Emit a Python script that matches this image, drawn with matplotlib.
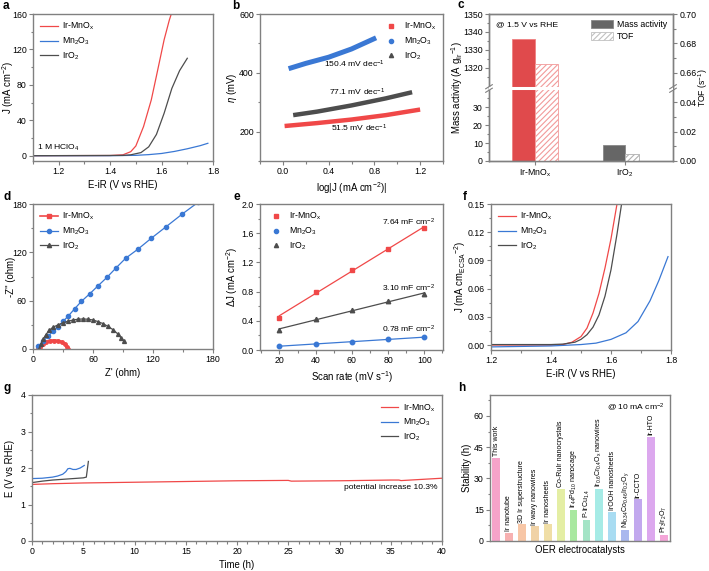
import numpy as np
import matplotlib
matplotlib.use('Agg')
import matplotlib.pyplot as plt
from matplotlib.lines import Line2D
from matplotlib.patches import Patch
from matplotlib.ticker import FixedLocator, MultipleLocator, FuncFormatter

plt.rcParams['font.family'] = ['Liberation Sans', 'DejaVu Sans']
plt.rcParams['mathtext.fontset'] = 'custom'
plt.rcParams['mathtext.rm'] = 'Liberation Sans'
plt.rcParams['mathtext.it'] = 'Liberation Sans:italic'
plt.rcParams['mathtext.default'] = 'regular'
plt.rcParams['hatch.linewidth'] = 0.8

RED = '#f04848'
BLUE = '#3a78d4'
GRAY = '#4d4d4d'
NAMES = ['Ir-MnO$_x$', 'Mn$_2$O$_3$', 'IrO$_2$']

# ---- a: LSV
a_ir_v = [1.10, 1.40, 1.45, 1.48, 1.50, 1.53, 1.56, 1.58, 1.61, 1.63, 1.64]
a_ir_j = [0, 0.2, 1.0, 4.5, 11, 33, 63, 90, 131, 153, 162]
a_mn_v = [1.10, 1.40, 1.50, 1.55, 1.60, 1.65, 1.70, 1.75, 1.78]
a_mn_j = [0, 0, 0.4, 1.2, 2.5, 4.8, 7.8, 11.3, 14]
a_iro_v = [1.10, 1.45, 1.48, 1.52, 1.55, 1.58, 1.61, 1.64, 1.67, 1.70]
a_iro_j = [0, 0.3, 1.0, 3.5, 10, 24, 48, 76, 96, 110]

# ---- b: Tafel
b_ir_x = [0.015, 0.3, 0.6, 0.9, 1.2]
b_ir_y = [219, 229, 241, 256, 275]
b_mn_x = [0.05, 0.2, 0.4, 0.6, 0.815]
b_mn_y = [414, 432, 453, 481, 519]
b_iro_x = [0.09, 0.3, 0.6, 0.9, 1.13]
b_iro_y = [256, 268, 289, 313, 334]
b_slopes = ['51.5 mV dec$^{-1}$', '150.4 mV dec$^{-1}$', '77.1 mV dec$^{-1}$']

# ---- c: mass activity / TOF
c_cats = ['Ir-MnO$_x$', 'IrO$_2$']
c_mass = [1336, 9]
c_tof = [0.666, 0.005]

# ---- d: Nyquist
d_ir_x = [5, 7, 10, 13, 17, 21, 25, 29, 32, 34, 35]
d_ir_y = [0, 3, 6, 8.5, 10, 10.5, 10, 8.5, 6, 3, 0.5]
d_mn_x = [5, 10, 15, 20, 25, 30, 35, 41.7, 48.3, 56.7, 65, 74, 83.3, 92.7, 105, 118.3, 133.3, 149.3, 165]
d_mn_y = [3.3, 9.5, 15.7, 21.9, 27, 34.3, 40.5, 50, 59, 68.5, 78.4, 89, 101, 112.7, 124, 137.5, 152, 167.6, 182]
d_iro_x = [6, 8, 10, 13, 16, 20, 25, 30, 35, 40, 45, 50, 55, 60, 65, 70, 75, 80, 85, 88, 91]
d_iro_y = [0, 6, 12, 18, 23, 27, 30, 32.5, 34.5, 36, 37, 37.3, 37, 36, 34, 31.5, 28, 24, 18.5, 14, 9.5]

# ---- e: Cdl
e_rate = [20, 40, 60, 80, 100]
e_ir = [0.44, 0.80, 1.10, 1.39, 1.67]
e_mn = [0.05, 0.085, 0.115, 0.145, 0.175]
e_iro = [0.27, 0.43, 0.545, 0.67, 0.765]
e_cdl = ['7.64 mF cm$^{-2}$', '0.78 mF cm$^{-2}$', '3.10 mF cm$^{-2}$']

# ---- f: ECSA-normalised LSV
f_ir_v = [1.20, 1.40, 1.44, 1.47, 1.50, 1.52, 1.54, 1.56, 1.58, 1.60, 1.62, 1.63]
f_ir_j = [0.0, 0.0, 0.0005, 0.003, 0.009, 0.018, 0.034, 0.055, 0.082, 0.113, 0.15, 0.168]
f_mn_v = [1.20, 1.40, 1.50, 1.55, 1.60, 1.65, 1.69, 1.73, 1.76, 1.79]
f_mn_j = [-0.002, -0.001, 0.0005, 0.002, 0.006, 0.013, 0.025, 0.047, 0.069, 0.094]
f_iro_v = [1.20, 1.40, 1.44, 1.48, 1.50, 1.52, 1.54, 1.56, 1.58, 1.60, 1.62, 1.64]
f_iro_j = [0.0005, 0.0005, 0.001, 0.003, 0.006, 0.011, 0.019, 0.032, 0.052, 0.08, 0.118, 0.16]

# ---- g: stability
g_ir_t = [0, 2, 5, 10, 15, 20, 25, 25.3, 30, 35, 35.8, 36, 40]
g_ir_e = [1.55, 1.57, 1.59, 1.61, 1.63, 1.65, 1.66, 1.64, 1.65, 1.67, 1.67, 1.655, 1.72]
g_mn_t = [0, 1, 2, 2.5, 3, 3.3, 3.5, 3.7, 4.0, 4.3, 4.7, 5.1]
g_mn_e = [1.71, 1.72, 1.75, 1.78, 1.83, 1.9, 1.98, 1.99, 1.96, 1.96, 2.0, 2.07]
g_iro_t = [0, 1, 2, 3, 4, 5, 5.3, 5.5]
g_iro_e = [1.60, 1.64, 1.67, 1.69, 1.71, 1.73, 1.75, 2.18]

# ---- h: comparison
h_names = ['This work', 'Ir nanotube', '3D Ir superstructure', 'Ir wavy nanowires',
           'Ir nanosheets', 'Co-RuIr nanocrystals', 'Ir$_{44}$Pd$_{10}$ nanocage',
           'P-IrCu$_{1.4}$', 'Ir$_{0.6}$Cr$_{0.4}$O$_x$ nanowires', 'IrOOH nanosheets',
           'Ni$_{0.34}$Co$_{0.46}$Ir$_{0.2}$O$_y$', 'Ir-CCTO', 'Ir-HTO', 'Pr$_3$Ir$_2$O$_7$']
h_vals = [40, 4, 8, 7, 8, 25, 15, 10, 25, 14, 5.5, 20, 50, 3]
h_colors = ['#f5a3c9', '#f7b1b1', '#f7c6a6', '#f0d2a6', '#f0dea6', '#e4eea4', '#a8e8a0',
            '#a4e4c6', '#a6ebe6', '#a8dcf2', '#a9b8ee', '#c2a8ee', '#dca8ee', '#f4a6d8']

W, H = 709, 571
fig = plt.figure(figsize=(W / 100, H / 100), dpi=100)


def px_axes(l, t, r, b):
    return fig.add_axes([l / W, 1 - b / H, (r - l) / W, (b - t) / H])


def style(ax):
    for s in ax.spines.values():
        s.set_color('#808080')
        s.set_linewidth(1.0)
    ax.tick_params(which='both', direction='out', color='#808080', labelsize=6.3,
                   width=0.8, pad=1.5)
    ax.tick_params(which='major', length=3)
    ax.tick_params(which='minor', length=1.8)


def ylab(ax, text, left, right_edge_px):
    # place y label so its right edge sits at a given pixel column
    ax.set_ylabel(text, fontsize=LAB)
    w = ax.get_position().width * W
    ax.yaxis.set_label_coords((right_edge_px - left) / w, 0.5)


def panel_label(x, y, s):
    fig.text(x / W, 1 - y / H, s, fontsize=8.5, fontweight='bold', va='center', ha='left')


LAB = 6.9
ANN = 6.1
LEG = dict(frameon=False, fontsize=6.3, handlelength=2.0, handletextpad=0.5,
           labelspacing=0.35, borderaxespad=0.4)

# ---------- a
ax = px_axes(33, 14, 213, 161)
ax.plot(a_ir_v, a_ir_j, color=RED, lw=0.9, label=NAMES[0])
ax.plot(a_mn_v, a_mn_j, color=BLUE, lw=0.9, label=NAMES[1])
ax.plot(a_iro_v, a_iro_j, color=GRAY, lw=0.9, label=NAMES[2])
ax.set_xlim(1.1, 1.8)
ax.set_ylim(-6, 160)
ax.set_xticks([1.2, 1.4, 1.6, 1.8])
ax.set_yticks([0, 40, 80, 120, 160])
ax.xaxis.set_minor_locator(MultipleLocator(0.1))
ax.yaxis.set_minor_locator(MultipleLocator(20))
style(ax)
ax.set_xlabel('E-iR (V vs RHE)', fontsize=LAB, labelpad=3)
ylab(ax, 'J (mA cm$^{-2}$)', 33, 16)
ax.text(1.115, 3, '1 M HClO$_4$', fontsize=ANN, va='bottom')
ax.legend(loc='upper left', **LEG)
panel_label(3, 6, 'a')

# ---------- b
ax = px_axes(260, 14, 443, 161)
ax.plot(b_ir_x, b_ir_y, color=RED, lw=3.2, solid_capstyle='butt')
ax.plot(b_mn_x, b_mn_y, color=BLUE, lw=3.6, solid_capstyle='butt')
ax.plot(b_iro_x, b_iro_y, color=GRAY, lw=3.2, solid_capstyle='butt')
ax.set_xlim(-0.2, 1.4)
ax.set_ylim(100, 600)
ax.set_xticks([0.0, 0.4, 0.8, 1.2])
ax.set_yticks([200, 400, 600])
ax.xaxis.set_minor_locator(MultipleLocator(0.2))
ax.yaxis.set_minor_locator(MultipleLocator(100))
style(ax)
ax.set_xlabel('log|J (mA cm$^{-2}$)|', fontsize=LAB, labelpad=3)
ylab(ax, r'$\mathit{\eta}$ (mV)', 260, 239)
ax.text(0.67, 212, b_slopes[0], fontsize=ANN, ha='center', va='center')
ax.text(0.63, 430, b_slopes[1], fontsize=ANN, ha='center', va='center')
ax.text(0.65, 334, b_slopes[2], fontsize=ANN, ha='center', va='center')
hb = [Line2D([], [], color=RED, marker='s', ls='none', ms=3),
      Line2D([], [], color=BLUE, marker='o', ls='none', ms=3),
      Line2D([], [], color=GRAY, marker='^', ls='none', ms=3)]
ax.legend(hb, NAMES, loc='upper right', **LEG)
panel_label(232, 6, 'b')

# ---------- c (broken axes through a piecewise scale)
lo, hi = 40.4, 1308.5
frac = lo / (1350 - (hi - lo))
tlo = 0.0493
thi = 0.70 + tlo - tlo / frac


def make_scale(a, b):
    def fwd(v):
        v = np.asarray(v, float)
        return np.where(v <= a, v, np.where(v >= b, v - (b - a), a))

    def inv(u):
        u = np.asarray(u, float)
        return np.where(u <= a, u, u + (b - a))
    return fwd, inv


ax = px_axes(489, 14, 673, 161)
ax.set_yscale('function', functions=make_scale(lo, hi))
ax2 = ax.twinx()
ax2.set_yscale('function', functions=make_scale(tlo, thi))
xc = np.arange(len(c_cats))
ax.bar(xc[0] - 0.126, c_mass[0], width=0.25, color='#e04a4c', edgecolor='#f08080', lw=0.6, zorder=2)
ax.bar(xc[1] - 0.122, c_mass[1], width=0.244, color='#666666', edgecolor='#888888', lw=0.6, zorder=2)
ax2.bar(xc[0] + 0.126, c_tof[0], width=0.25, color='white', edgecolor='#f29a9a', hatch='//////', lw=0.6)
ax2.bar(xc[1] + 0.078, c_tof[1], width=0.156, color='white', edgecolor='#b0b0b0', hatch='//////', lw=0.6)
ax2.plot([0, 1], [frac, frac], transform=ax2.transAxes, color='white', lw=2.2, zorder=5)
for xx in (0, 1):
    for dy in (-0.012, 0.012):
        ax2.plot([xx - 0.018, xx + 0.018], [frac + dy - 0.014, frac + dy + 0.014],
                 transform=ax2.transAxes, color='#808080', lw=0.8, clip_on=False, zorder=6)
ax.set_xlim(-0.511, 1.533)
ax.set_ylim(0, 1350)
ax2.set_ylim(0, 0.70)
ax.yaxis.set_major_locator(FixedLocator([0, 10, 20, 30, 1320, 1330, 1340, 1350]))
ax.yaxis.set_minor_locator(FixedLocator([5, 15, 25, 35, 1315, 1325, 1335, 1345]))
ax.yaxis.set_major_formatter(FuncFormatter(lambda v, p: '%d' % round(v)))
ax2.yaxis.set_major_locator(FixedLocator([0, 0.02, 0.04, 0.66, 0.68, 0.70]))
ax2.yaxis.set_minor_locator(FixedLocator([0.01, 0.03, 0.67, 0.69]))
ax2.yaxis.set_major_formatter(FuncFormatter(lambda v, p: '%.2f' % v))
ax.set_xticks(xc)
ax.set_xticklabels(c_cats)
style(ax)
style(ax2)
ax.tick_params(axis='x', which='minor', bottom=False)
ylab(ax, 'Mass activity (A g$_{Ir}$$^{-1}$)', 489, 465)
ax2.set_ylabel('TOF (s$^{-1}$)', fontsize=6.2)
ax2.yaxis.set_label_coords((696 - 489) / 184, 0.5)
ax.text(0.04, 0.95, '@ 1.5 V vs RHE', transform=ax.transAxes, fontsize=ANN, va='top')
hc = [Patch(facecolor='#666666', edgecolor='#888888', lw=0.6),
      Patch(facecolor='white', edgecolor='#c0c0c0', hatch='//////', lw=0.6)]
ax2.legend(hc, ['Mass activity', 'TOF'], loc='upper right', frameon=False, fontsize=6.3,
           handlelength=2.6, handleheight=1.0, handletextpad=0.4, labelspacing=0.3,
           borderaxespad=0.3)
panel_label(458, 5, 'c')

# ---------- d
ax = px_axes(33, 204, 213, 349)
ax.plot(d_ir_x, d_ir_y, color=RED, lw=2.2, marker='o', ms=2.5, label=NAMES[0])
ax.plot(d_mn_x, d_mn_y, color=BLUE, lw=0.9, marker='o', ms=3, label=NAMES[1])
ax.plot(d_iro_x, d_iro_y, color=GRAY, lw=0.9, marker='^', ms=2.8, label=NAMES[2])
ax.set_xlim(0, 180)
ax.set_ylim(0, 180)
ax.set_xticks([0, 60, 120, 180])
ax.set_yticks([0, 60, 120, 180])
ax.xaxis.set_minor_locator(MultipleLocator(30))
ax.yaxis.set_minor_locator(MultipleLocator(30))
style(ax)
ax.set_xlabel("Z' (ohm)", fontsize=LAB, labelpad=3)
ylab(ax, "-Z'' (ohm)", 33, 16)
hd = [Line2D([], [], color=RED, lw=1.2, marker='s', ms=3),
      Line2D([], [], color=BLUE, lw=0.9, marker='o', ms=3),
      Line2D([], [], color=GRAY, lw=0.9, marker='^', ms=3)]
ax.legend(hd, NAMES, loc='upper left', **LEG)
panel_label(3, 197, 'd')

# ---------- e
ax = px_axes(260, 204, 443, 350)
for y, c, m, lab, ty in [(e_ir, RED, 's', e_cdl[0], 1.75), (e_mn, BLUE, 'o', e_cdl[1], 0.28),
                         (e_iro, GRAY, '^', e_cdl[2], 0.85)]:
    k, b0 = np.polyfit(e_rate, y, 1)
    xs = np.array([e_rate[0], e_rate[-1]])
    ax.plot(xs, k * xs + b0, color=c, lw=0.9)
    ax.plot(e_rate, y, ls='none', marker=m, color=c, ms=3.2)
    ax.text(91.5, ty, lab, fontsize=ANN, ha='center', va='center')
ax.set_xlim(9.3, 110.3)
ax.set_ylim(0, 2.0)
ax.set_xticks([20, 40, 60, 80, 100])
ax.set_yticks([0, 0.4, 0.8, 1.2, 1.6, 2.0])
ax.xaxis.set_minor_locator(MultipleLocator(10))
ax.yaxis.set_minor_locator(MultipleLocator(0.2))
style(ax)
ax.set_xlabel('Scan rate (mV s$^{-1}$)', fontsize=LAB, labelpad=3)
ylab(ax, r'$\Delta$J (mA cm$^{-2}$)', 260, 240)
ax.legend(hb, NAMES, loc='upper left', **LEG)
panel_label(233, 197, 'e')

# ---------- f
ax = px_axes(491, 204, 671, 350)
ax.plot(f_ir_v, f_ir_j, color=RED, lw=0.9, label=NAMES[0])
ax.plot(f_mn_v, f_mn_j, color=BLUE, lw=0.9, label=NAMES[1])
ax.plot(f_iro_v, f_iro_j, color=GRAY, lw=0.9, label=NAMES[2])
ax.set_xlim(1.2, 1.8)
ax.set_ylim(-0.0053, 0.15)
ax.set_xticks([1.2, 1.4, 1.6, 1.8])
ax.set_yticks([0, 0.03, 0.06, 0.09, 0.12, 0.15])
ax.yaxis.set_major_formatter(FuncFormatter(lambda v, p: '%.2f' % v))
ax.xaxis.set_minor_locator(MultipleLocator(0.1))
ax.yaxis.set_minor_locator(MultipleLocator(0.015))
style(ax)
ax.set_xlabel('E-iR (V vs RHE)', fontsize=LAB, labelpad=3)
ylab(ax, 'J (mA cm$_{ECSA}$$^{-2}$)', 491, 468)
ax.legend(loc='upper left', **LEG)
panel_label(463, 197, 'f')

# ---------- g
ax = px_axes(32, 395, 442, 541)
ax.plot(g_ir_t, g_ir_e, color=RED, lw=0.9, label=NAMES[0])
ax.plot(g_mn_t, g_mn_e, color=BLUE, lw=0.9, label=NAMES[1])
ax.plot(g_iro_t, g_iro_e, color=GRAY, lw=0.9, label=NAMES[2])
ax.set_xlim(0, 40)
ax.set_ylim(0, 4)
ax.set_xticks(np.arange(0, 41, 5))
ax.set_yticks([0, 1, 2, 3, 4])
ax.xaxis.set_minor_locator(MultipleLocator(1))
ax.yaxis.set_minor_locator(MultipleLocator(0.5))
style(ax)
ax.set_xlabel('Time (h)', fontsize=LAB, labelpad=3)
ylab(ax, 'E (V vs RHE)', 32, 15)
ax.text(39.6, 1.46, 'potential increase 10.3%', fontsize=ANN, ha='right', va='center')
ax.legend(loc='upper right', **LEG)
panel_label(3, 388, 'g')

# ---------- h
plt.rcParams['hatch.color'] = 'white'
ax = px_axes(490, 395, 670, 541)
xh = np.arange(len(h_vals))
for i, (v, c, n) in enumerate(zip(h_vals, h_colors, h_names)):
    ax.bar(xh[i], v, width=0.6, color=c, edgecolor=c, hatch='.....', lw=0)
    ax.text(xh[i], v + 0.8, n, rotation=90, fontsize=5, ha='center', va='bottom')
ax.set_xlim(-0.47, len(h_vals) - 0.53)
ax.set_ylim(0, 70)
ax.set_yticks([0, 15, 30, 45, 60])
ax.yaxis.set_minor_locator(MultipleLocator(7.5))
ax.set_xticks([])
style(ax)
ax.tick_params(axis='x', which='both', bottom=False)
ax.set_xlabel('OER electrocatalysts', fontsize=LAB, labelpad=3)
ylab(ax, 'Stability (h)', 490, 472)
ax.text(0.97, 0.96, '@ 10 mA cm$^{-2}$', transform=ax.transAxes, fontsize=ANN, ha='right', va='top')
panel_label(458, 388, 'h')

fig.savefig('out.png', dpi=100)
